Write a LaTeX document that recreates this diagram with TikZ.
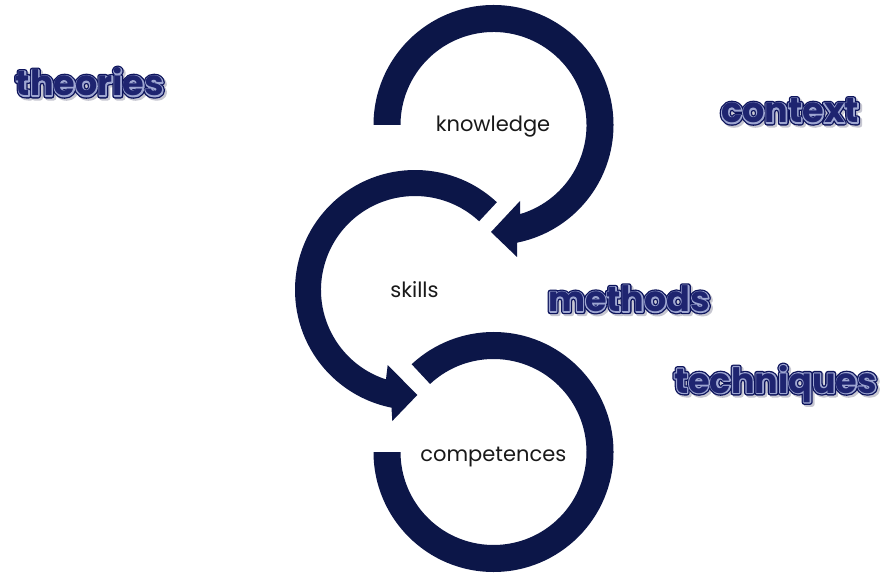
\documentclass[tikz,border=0pt]{standalone}
\usepackage{fontspec}
\usetikzlibrary{calc}
\newfontfamily\labelfont{Poppins}
\newfontfamily\wordfont{Poppins}
\definecolor{ringnavy}{RGB}{12,22,72}
\definecolor{wordnavy}{RGB}{30,36,112}
\definecolor{shadowgrey}{RGB}{200,200,208}
\definecolor{labelgrey}{RGB}{25,25,25}
% #1 stroke colour as "r g b", #2 stroke width, #3 text
\newcommand\strokeword[3]{\special{pdf:code 2 Tr #2 w 1 j #1 RG}#3\special{pdf:code 0 Tr}}
\newcommand\fancyword[1]{%
  \rlap{\kern2pt\raisebox{-2pt}{\textcolor{shadowgrey}{\strokeword{0.78 0.78 0.82}{5.0}{#1}}}}%
  \rlap{\textcolor{wordnavy}{\strokeword{0.05 0.08 0.36}{5.0}{#1}}}%
  \rlap{\textcolor{wordnavy}{\strokeword{0.62 0.65 0.82}{2.4}{#1}}}%
  \textcolor{wordnavy}{#1}}
\tikzset{
  ring/.style={fill=ringnavy},
  cyclelabel/.style={font=\labelfont\fontsize{21}{25}\selectfont, text=labelgrey, inner sep=0pt, anchor=base},
  bigword/.style={font=\wordfont\bfseries\fontsize{35}{40}\selectfont, inner sep=0pt, anchor=base}
}
\begin{document}
\begin{tikzpicture}[x=1pt,y=1pt]
\fill[white] (0,0) rectangle (890,573);
\useasboundingbox (0,0) rectangle (890,573);
\coordinate (c1) at (493.5,448);
\coordinate (c2) at (415,283);
\coordinate (c3) at (493.5,121);
% knowledge arrow
\path[ring] ($(c1)+(180:120)$) arc[start angle=180,end angle=-78.7,radius=120]
  -- (517,316) -- (491,341) -- (520,372) -- ($(c1)+(-73.4:93)$)
  arc[start angle=-73.4,end angle=180,radius=93] -- cycle;
% skills arrow
\path[ring] ($(c2)+(47:94)$) -- ($(c2)+(47:120)$) arc[start angle=47,end angle=258.7,radius=120]
  -- (392.3,152) -- (417.3,178) -- (387.7,208) -- ($(c2)+(252:94)$)
  arc[start angle=252,end angle=47,radius=94] -- cycle;
% competences ring
\path[ring] ($(c3)+(180:120)$) arc[start angle=180,end angle=493,radius=120]
  -- ($(c3)+(493:93)$) arc[start angle=493,end angle=180,radius=93] -- cycle;
% labels
\node[cyclelabel] (knowledge) at (493,441.3) {knowledge};
\node[cyclelabel] (skills) at (414.5,275) {skills};
\node[cyclelabel] (competences) at (493.3,111.3) {competences};
\node[bigword] (theories) at (90,477) {\fancyword{theories}};
\node[bigword] (context) at (790,450) {\fancyword{context}};
\node[bigword] (methods) at (629,261.3) {\fancyword{methods}};
\node[bigword] (techniques) at (775.5,180) {\fancyword{techniques}};
\end{tikzpicture}
\end{document}
